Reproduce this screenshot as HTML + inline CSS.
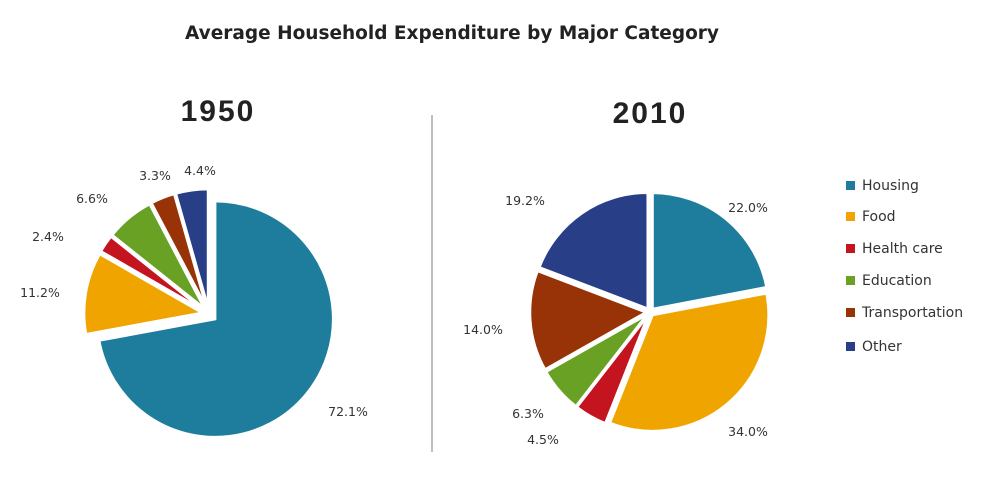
<!DOCTYPE html>
<html><head><meta charset="utf-8"><style>
body{margin:0;background:#fff;width:999px;height:493px;overflow:hidden;font-family:"DejaVu Sans",sans-serif}
svg text{font-family:"DejaVu Sans",sans-serif}
</style></head><body>
<svg width="999" height="493">
<text x="452" y="39" text-anchor="middle" font-size="18.5" font-weight="bold" fill="#222">Average Household Expenditure by Major Category</text>
<text x="218" y="121" text-anchor="middle" font-size="30" font-weight="bold" fill="#222" letter-spacing="2" style="font-family:'Liberation Sans',sans-serif">1950</text>
<text x="650" y="123" text-anchor="middle" font-size="30" font-weight="bold" fill="#222" letter-spacing="2" style="font-family:'Liberation Sans',sans-serif">2010</text>
<line x1="432" y1="115" x2="432" y2="452" stroke="#aaa" stroke-width="1.5"/>
<g id="p1"></g>
<g id="p2"></g>
<g id="legend"></g>
</svg>
<script>
const categories=["Housing","Food","Health care","Education","Transportation","Other"];
const values1950=[72.1,11.2,2.4,6.6,3.3,4.4];
const values2010=[22.0,34.0,4.5,6.3,14.0,19.2];
const colors=["#1e7d9c","#f0a400","#c3141f","#68a124","#983207","#283f88"];
const NS="http://www.w3.org/2000/svg";
function mk(t,a,p){const e=document.createElementNS(NS,t);for(const k in a)e.setAttribute(k,a[k]);p.appendChild(e);return e;}
function pie(g,vals,cx,cy,r,ex,labelPos){
  const tot=vals.reduce((a,b)=>a+b,0);let a0=0;
  vals.forEach((v,i)=>{
    const a1=a0+v/tot*2*Math.PI, m=(a0+a1)/2;
    const ox=cx+ex[i]*Math.sin(m), oy=cy-ex[i]*Math.cos(m);
    const x0=ox+r*Math.sin(a0),y0=oy-r*Math.cos(a0),x1=ox+r*Math.sin(a1),y1=oy-r*Math.cos(a1);
    const p=mk("path",{d:`M${ox},${oy}L${x0},${y0}A${r},${r} 0 ${a1-a0>Math.PI?1:0} 1 ${x1},${y1}Z`,fill:colors[i],stroke:"#fff","stroke-width":2.5},g);
    
    
    const t=mk("text",{x:labelPos[i][0],y:labelPos[i][1],"font-size":12.5,fill:"#333","text-anchor":"middle"},g);
    t.textContent=v.toFixed(1)+"%";
    
    
    a0=a1;
  });
}
pie(document.getElementById("p1"),values1950,209,314,118,[8,7,7,7,7,7],[[348,416],[40,297],[48,241],[92,203],[155,180],[200,175]]);
pie(document.getElementById("p2"),values2010,650,312,116,[4,4,4,4,4,4],[[748,212],[748,436],[543,444],[528,418],[483,334],[525,205]]);
const lg=document.getElementById("legend");
const ly=[189,220,252,284,316,350];
categories.forEach((c,i)=>{
  const r=mk("rect",{x:846,y:ly[i]-8,width:9,height:9,fill:colors[i]},lg);
  
  
  const t=mk("text",{x:862,y:ly[i]+1,"font-size":14,fill:"#333"},lg);
  t.textContent=c;
  
  
});
</script>
</body></html>
